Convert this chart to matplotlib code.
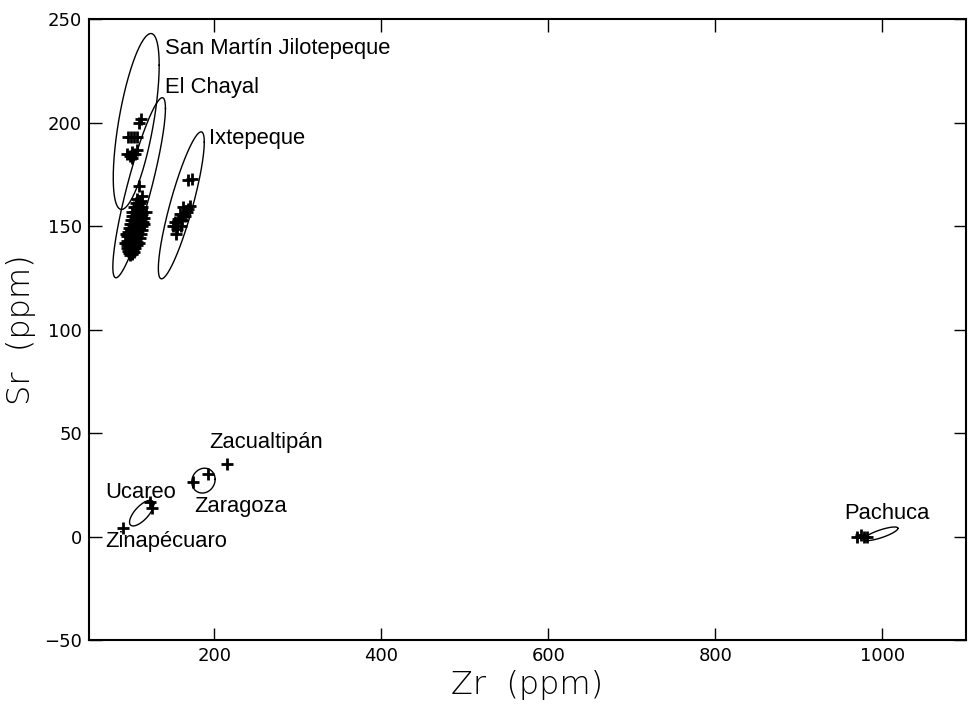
import numpy as np
import matplotlib
matplotlib.use("Agg")
import matplotlib.pyplot as plt

## point data (Zr, Sr)
smj_zr = [110, 112, 97, 100, 104, 107, 96, 99, 102, 105, 107, 101]
smj_sr = [200, 201.5, 193, 193, 193, 193, 185, 184, 186, 185, 186.5, 183]

chayal_zr = [110, 113, 112, 108, 106, 109, 111, 104, 107, 110, 113, 102,
             105, 108, 111, 114, 101, 104, 107, 110, 113, 116, 100, 103,
             106, 109, 112, 115, 99, 102, 105, 108, 111, 114, 98, 101,
             104, 107, 110, 113, 97, 100, 103, 106, 109, 112, 96, 99,
             102, 105, 108, 111, 95, 98, 101, 104, 107, 110, 95, 98,
             101, 104, 107, 96, 99, 102, 105, 97, 100, 103, 98, 101,
             104, 99, 102, 116, 118, 94, 93]
chayal_sr = [169.5, 164.5, 162, 163, 161, 160, 161, 159, 159, 158, 159, 157,
             157, 156.5, 157, 156, 155, 155, 154.5, 155, 154, 154, 153, 153,
             152.5, 152, 152.5, 152, 151, 151, 150.5, 150, 150.5, 150, 149, 149,
             148.5, 148, 148.5, 148, 147, 147, 146.5, 146, 146.5, 146, 145, 145,
             144.5, 144, 144.5, 144, 143, 143, 142.5, 142, 142.5, 142, 141, 141,
             140.5, 140, 141, 139.5, 139, 139, 139.5, 138, 138, 138.5, 137, 137,
             137.5, 136, 136.5, 151, 157, 146, 142]

ixt_zr = [169, 173, 163, 169, 159, 165, 157, 161, 153, 151, 155, 154, 160, 167, 171]
ixt_sr = [172, 172.5, 159, 158.3, 156, 155, 153.5, 152.7, 151.8, 150.2, 148.6, 146.2, 150.2, 156.7, 159.6]

zac_zr = [215]
zac_sr = [35]
zar_zr = [175, 193]
zar_sr = [26.5, 30]
uca_zr = [123, 125]
uca_sr = [16.5, 14]
zin_zr = [91]
zin_sr = [4]
pac_zr = [970, 974, 978, 981]
pac_sr = [0, 0.5, 0, 0]

## ellipses: centre, half-range in x and y, correlation
ell_names = ["SMJ", "Chayal", "Ixtepeque", "Zaragoza", "Ucareo", "Pachuca"]
ell_cx = [106.5, 110, 160.5, 187, 113, 998]
ell_cy = [200.5, 168.5, 160, 27, 11.3, 1.3]
ell_sx = [27.5, 31.5, 27.5, 14, 14.5, 20.5]
ell_sy = [42.5, 43.5, 35.5, 6, 6.2, 3.3]
ell_rho = [0.64, 0.88, 0.86, 0.1, 0.7, 0.8]

## labels
lab_text = ["San Martín Jilotepeque", "El Chayal", "Ixtepeque", "Zacualtipán",
            "Zaragoza", "Ucareo", "Zinapécuaro", "Pachuca"]
lab_x = [140.5, 140.5, 193.5, 193.5, 176.5, 70, 69, 954]
lab_y = [235.7, 217, 192.5, 45.4, 14.5, 21.5, -2.4, 11]

fig = plt.figure(figsize=(9.74, 7.05), dpi=100)
ax = fig.add_axes([0.0914, 0.0922, 0.9004, 0.8808])

t = np.linspace(0, 2 * np.pi, 300)
for cx, cy, sx, sy, rho in zip(ell_cx, ell_cy, ell_sx, ell_sy, ell_rho):
    phi = np.arccos(rho)
    ax.plot(cx + sx * np.cos(t), cy + sy * np.cos(t - phi), color='black', lw=1.0)

pk = dict(marker='+', color='black', linestyle='none', markersize=8, mew=2)
for xs, ys in [(smj_zr, smj_sr), (chayal_zr, chayal_sr), (ixt_zr, ixt_sr),
               (zac_zr, zac_sr), (zar_zr, zar_sr), (uca_zr, uca_sr),
               (zin_zr, zin_sr), (pac_zr, pac_sr)]:
    ax.plot(xs, ys, **pk)

for s, x, y in zip(lab_text, lab_x, lab_y):
    ax.text(x, y, s, fontsize=15.8, family='Liberation Sans', va='center', ha='left')

ax.set_xlim(50, 1100)
ax.set_ylim(-50, 250)
ax.set_xticks([200, 400, 600, 800, 1000])
ax.set_yticks([-50, 0, 50, 100, 150, 200, 250])
ax.tick_params(direction='in', length=9, width=1, top=True, right=True,
               labelsize=13, pad=5)
for sp in ax.spines.values():
    sp.set_linewidth(1.5)

ax.set_xlabel('Zr  (ppm)', fontsize=23, fontweight='light', labelpad=4)
ax.set_ylabel('Sr  (ppm)', fontsize=23, fontweight='light', labelpad=6)

plt.savefig('out.png', dpi=100)
